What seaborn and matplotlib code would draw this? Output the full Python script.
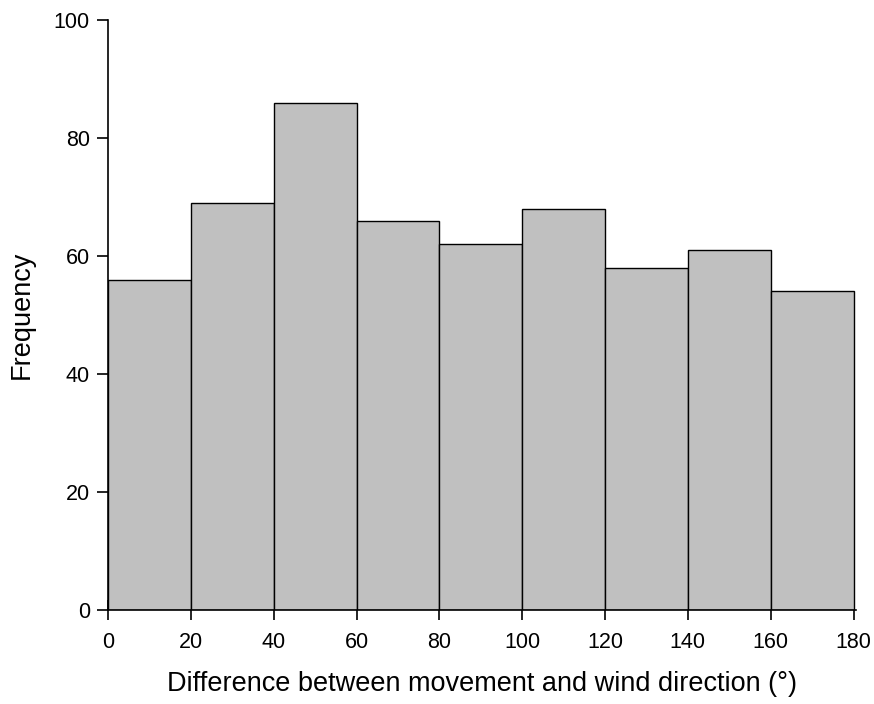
import numpy as np
import seaborn as sns
import matplotlib.pyplot as plt

# Histogram counts (20-degree bins)
bin_edges = [0, 20, 40, 60, 80, 100, 120, 140, 160, 180]
bin_centers = [10, 30, 50, 70, 90, 110, 130, 150, 170]
counts = [56, 69, 86, 66, 62, 68, 58, 61, 54]

sns.set_style("ticks")
plt.rcParams['font.family'] = ['Liberation Sans', 'DejaVu Sans']
plt.rcParams['text.color'] = 'black'
plt.rcParams['axes.labelcolor'] = 'black'

fig = plt.figure(figsize=(8.74, 7.04), dpi=100)
ax = fig.add_axes([108 / 874, 1 - 610 / 704, (856 - 108) / 874, (610 - 20) / 704])

sns.histplot(x=bin_centers, weights=counts, bins=bin_edges, ax=ax,
             color='#c0c0c0', alpha=1, edgecolor='black', linewidth=1)

ax.set_xlim(0, 180.6)
ax.set_ylim(0, 100)
ax.set_xticks(range(0, 181, 20))
ax.set_yticks(range(0, 101, 20))
ax.tick_params(axis='x', direction='inout', length=14, width=1.2, labelsize=15.5, pad=9, colors='black')
ax.tick_params(axis='y', direction='out', length=8, width=1.2, labelsize=15.5, pad=5, colors='black')
for s in ['left', 'bottom']:
    ax.spines[s].set_linewidth(1.2)
    ax.spines[s].set_color('black')
sns.despine(ax=ax)

ax.set_xlabel('Difference between movement and wind direction (°)', fontsize=19.5, labelpad=13)
ax.set_ylabel('Frequency', fontsize=19.5, labelpad=14)

plt.savefig('out.png', dpi=100)
